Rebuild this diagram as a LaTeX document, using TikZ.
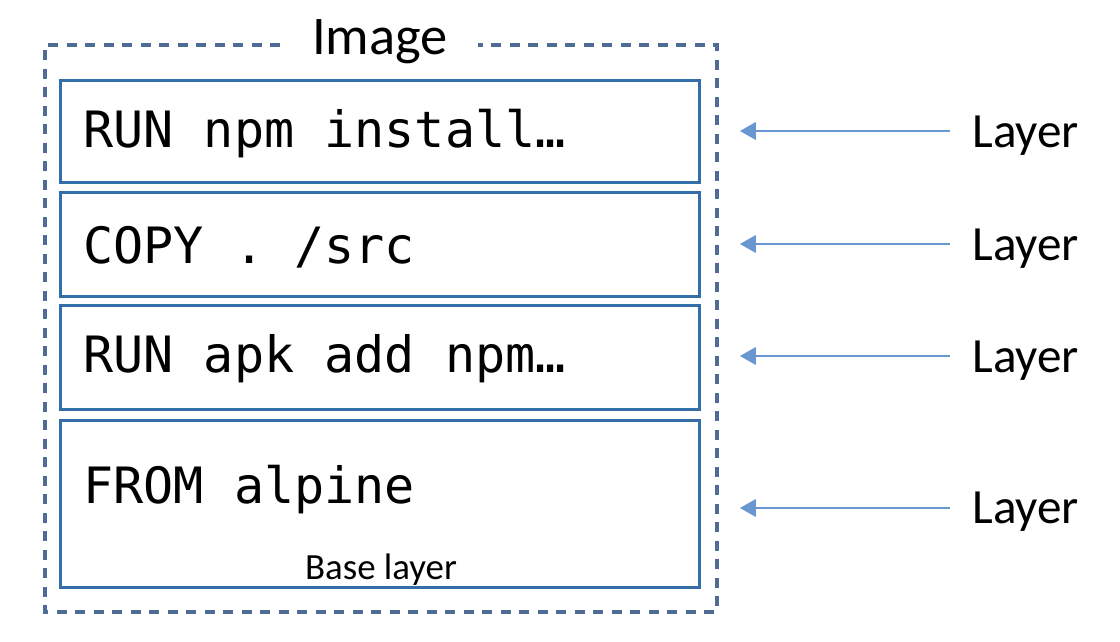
\documentclass[tikz,border=0pt]{standalone}
\usepackage{fontspec}
\setmainfont{Carlito}
\newfontfamily\codefont{DejaVu Sans Mono}
\usepackage{tikz}
\usetikzlibrary{arrows.meta}
\usetikzlibrary{positioning}
\definecolor{boxblue}{RGB}{52,110,168}
\definecolor{dashblue}{RGB}{78,108,150}
\definecolor{arrowblue}{RGB}{104,152,210}
\tikzset{>=latex}
\tikzstyle{layerbox} = [rectangle, draw=boxblue, line width=1.7pt, minimum width=12.8cm, inner sep=0]
\tikzstyle{cmd} = [draw=none, anchor=west, inner sep=0, font=\codefont\fontsize{28.5}{30}\selectfont]
\tikzstyle{lbl} = [draw=none, anchor=west, inner sep=0.44cm, font=\fontsize{28}{30}\selectfont]
\tikzstyle{layarrow} = [-{Triangle[length=9pt,width=10pt]}, draw=arrowblue, fill=arrowblue, line width=1.1pt]

\begin{document}
\begin{tikzpicture}[x=0.02cm, y=-0.02cm]
\useasboundingbox (0,0) rectangle (1120,642);
% outer image frame, open at the title
\coordinate (gl) at (280,45);
\coordinate (gr) at (478,45);
\draw [draw=dashblue, line width=1.9pt, dash pattern=on 0.2cm off 0.17cm]
  (gl) -- (45,45) -- (45,612) -- (717,612) -- (717,45) -- (gr);
\node [draw=none, font=\fontsize{31}{33}\selectfont] (img) at (380,42) {Image};
% layers
\node [layerbox, minimum height=2.06cm] (b1) at (380,131.5) {};
\node [layerbox, minimum height=2.1cm] (b2) at (380,244.5) {};
\node [layerbox, minimum height=2.1cm] (b3) at (380,357.5) {};
\node [layerbox, minimum height=3.36cm] (b4) at (380,504) {};
\node [cmd] (c1) at (83,134) {RUN npm install…};
\node [cmd] (c2) at (83,247) {COPY . /src};
\node [cmd] (c3) at (83,359) {RUN apk add npm…};
\node [cmd] (c4) at (83,490) {FROM alpine};
\node [draw=none, font=\fontsize{21}{23}\selectfont] (base) at (381,570) {Base layer};
% labels on the right
\node [lbl] (l1) at (950,136) {Layer};
\node [lbl] (l2) at (950,249) {Layer};
\node [lbl] (l3) at (950,361) {Layer};
\node [lbl] (l4) at (950,512) {Layer};
\coordinate (t1) at (740,131);
\coordinate (t2) at (740,244);
\coordinate (t3) at (740,356);
\coordinate (t4) at (740,508);
\draw [layarrow] (950,131) -- (t1);
\draw [layarrow] (950,244) -- (t2);
\draw [layarrow] (950,356) -- (t3);
\draw [layarrow] (950,508) -- (t4);
\end{tikzpicture}
\end{document}
